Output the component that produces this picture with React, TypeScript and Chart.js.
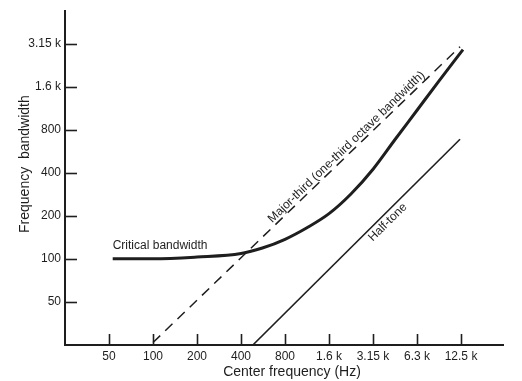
import React, { useEffect, useRef } from "react";
import { Chart, registerables } from "chart.js";

Chart.register(...registerables);

// ---- data (Hz) ----
const xTickValues = [50, 100, 200, 400, 800, 1600, 3200, 6400, 12800];
const xTickLabels = ["50", "100", "200", "400", "800", "1.6 k", "3.15 k", "6.3 k", "12.5 k"];
const yTickValues = [50, 100, 200, 400, 800, 1600, 3200];
const yTickLabels = ["50", "100", "200", "400", "800", "1.6 k", "3.15 k"];

const criticalFreq = [53, 100, 200, 400, 560, 800, 1130, 1600, 2260, 3200, 4500, 6400, 9000, 13200];
const criticalBw = [100, 100, 103, 109, 119, 137, 165, 207, 284, 423, 677, 1093, 1740, 2900];

const majorThirdFreq = [100, 12600];
const majorThirdBw = [26, 3040];

const halfToneFreq = [482, 12600];
const halfToneBw = [25, 685];

const FONT = '"Liberation Sans", Arial, Helvetica, sans-serif';
const INK = "#1e1e1e";

function drawAlong(
  ctx: CanvasRenderingContext2D,
  xs: any,
  ys: any,
  fx: number[],
  fy: number[],
  t: number,
  off: number,
  text: string
) {
  const x1 = xs.getPixelForValue(fx[0]);
  const y1 = ys.getPixelForValue(fy[0]);
  const x2 = xs.getPixelForValue(fx[fx.length - 1]);
  const y2 = ys.getPixelForValue(fy[fy.length - 1]);
  const ang = Math.atan2(y2 - y1, x2 - x1);
  const cx = x1 + (x2 - x1) * t;
  const cy = y1 + (y2 - y1) * t;
  ctx.save();
  ctx.translate(cx, cy);
  ctx.rotate(ang);
  ctx.textAlign = "center";
  ctx.textBaseline = "middle";
  ctx.fillText(text, 0, off);
  ctx.restore();
}

const decorPlugin = {
  id: "decor",
  afterDraw(chart: any) {
    const { ctx, chartArea, scales } = chart;
    const xs = scales.x;
    const ys = scales.y;
    ctx.save();
    ctx.strokeStyle = INK;
    ctx.lineWidth = 1.6;
    // inward tick marks
    for (const t of xs.ticks) {
      const px = Math.round(xs.getPixelForValue(t.value)) + 0.5;
      ctx.beginPath();
      ctx.moveTo(px, chartArea.bottom);
      ctx.lineTo(px, chartArea.bottom - 11);
      ctx.stroke();
    }
    for (const t of ys.ticks) {
      const py = Math.round(ys.getPixelForValue(t.value)) + 0.5;
      ctx.beginPath();
      ctx.moveTo(chartArea.left, py);
      ctx.lineTo(chartArea.left + 12, py);
      ctx.stroke();
    }

    ctx.fillStyle = INK;
    ctx.font = `12px ${FONT}`;
    ctx.textAlign = "left";
    ctx.textBaseline = "middle";
    ctx.fillText(
      "Critical bandwidth",
      xs.getPixelForValue(criticalFreq[0]),
      ys.getPixelForValue(criticalBw[0]) - 13
    );
    drawAlong(ctx, xs, ys, majorThirdFreq, majorThirdBw, 0.645, -6.5, "Major-third (one-third octave bandwidth)");
    drawAlong(ctx, xs, ys, halfToneFreq, halfToneBw, 0.624, 8, "Half-tone");

    // axis titles
    ctx.font = `14px ${FONT}`;
    ctx.textAlign = "center";
    ctx.textBaseline = "middle";
    ctx.fillText(
      "Center frequency (Hz)",
      (chartArea.left + chartArea.right) / 2 + 8,
      chartArea.bottom + 27
    );
    ctx.save();
    ctx.translate(chartArea.left - 40, (chartArea.top + chartArea.bottom) / 2 - 14);
    ctx.rotate(-Math.PI / 2);
    ctx.fillText("Frequency  bandwidth", 0, 0);
    ctx.restore();
    ctx.restore();
  },
};

export default function App() {
  const ref = useRef<HTMLCanvasElement | null>(null);

  useEffect(() => {
    if (!ref.current) return;
    const chart = new Chart(ref.current, {
      type: "line",
      data: {
        datasets: [
          {
            label: "Critical bandwidth",
            data: criticalFreq.map((f, i) => ({ x: f, y: criticalBw[i] })),
            borderColor: INK,
            borderWidth: 3,
            pointRadius: 0,
            cubicInterpolationMode: "monotone",
            fill: false,
          },
          {
            label: "Major-third",
            data: majorThirdFreq.map((f, i) => ({ x: f, y: majorThirdBw[i] })),
            borderColor: INK,
            borderWidth: 1.5,
            borderDash: [10, 7],
            pointRadius: 0,
            fill: false,
          },
          {
            label: "Half-tone",
            data: halfToneFreq.map((f, i) => ({ x: f, y: halfToneBw[i] })),
            borderColor: INK,
            borderWidth: 1.6,
            pointRadius: 0,
            fill: false,
          },
        ],
      },
      options: {
        animation: false,
        responsive: false,
        layout: { padding: { left: 0, top: 7, right: 19, bottom: 0 } },
        plugins: { legend: { display: false }, tooltip: { enabled: false } },
        scales: {
          x: {
            type: "logarithmic",
            min: 25,
            max: 24790,
            afterBuildTicks: (s: any) => {
              s.ticks = xTickValues.map((v) => ({ value: v }));
            },
            afterFit: (s: any) => {
              s.height = 36;
            },
            grid: { display: false, drawTicks: false },
            border: { display: true, color: INK, width: 2 },
            ticks: {
              autoSkip: false,
              maxRotation: 0,
              padding: 4,
              color: INK,
              font: { family: FONT, size: 12 },
              callback: (v: any) => {
                const i = xTickValues.indexOf(Number(v));
                return i >= 0 ? xTickLabels[i] : "";
              },
            },
          },
          y: {
            type: "logarithmic",
            min: 25,
            max: 5382,
            afterBuildTicks: (s: any) => {
              s.ticks = yTickValues.map((v) => ({ value: v }));
            },
            afterFit: (s: any) => {
              s.width = 65;
            },
            grid: { display: false, drawTicks: false },
            border: { display: true, color: INK, width: 2 },
            ticks: {
              autoSkip: false,
              padding: 4,
              color: INK,
              font: { family: FONT, size: 12 },
              callback: (v: any) => {
                const i = yTickValues.indexOf(Number(v));
                return i >= 0 ? yTickLabels[i] : "";
              },
            },
          },
        },
      },
      plugins: [decorPlugin],
    } as any);
    return () => chart.destroy();
  }, []);

  return (
    <div style={{ position: "absolute", left: 0, top: 0, width: 522, height: 381, background: "#fff" }}>
      <canvas ref={ref} width={522} height={381} style={{ display: "block" }} />
    </div>
  );
}
